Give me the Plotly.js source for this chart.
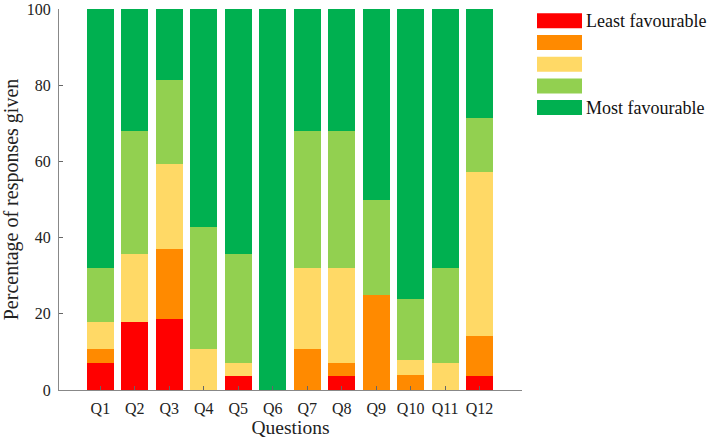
<!DOCTYPE html>
<html>
<head>
<meta charset="utf-8">
<script src="https://cdn.plot.ly/plotly-3.0.1.min.js"></script>
<style>html,body{margin:0;padding:0;background:#fff}#chart{width:708px;height:444px}</style>
</head>
<body>
<div id="chart"></div>
<script>
const questions = ["Q1","Q2","Q3","Q4","Q5","Q6","Q7","Q8","Q9","Q10","Q11","Q12"];
const seriesNames = ["Least favourable","","","","Most favourable"];
const seriesColors = ["#FF0000","#FF8A00","#FFD966","#92D050","#00B050"];
const leastFavourable = [7.14,17.86,18.52,0,3.57,0,0,3.57,0,0,0,3.57];
const level2 =          [3.57,0,18.52,0,0,0,10.71,3.57,25,4,0,10.71];
const level3 =          [7.14,17.86,22.22,10.71,3.57,0,21.43,25,0,4,7.14,42.86];
const level4 =          [14.29,32.14,22.22,32.14,28.57,0,35.71,35.71,25,16,25,14.29];
const mostFavourable =  [67.86,32.14,18.52,57.14,64.29,100,32.14,32.14,50,76,67.86,28.57];
const yTicks = [0,20,40,60,80,100];

const series = [leastFavourable, level2, level3, level4, mostFavourable];
const traces = series.map((vals, i) => ({
  type: "bar",
  x: questions,
  y: vals,
  name: seriesNames[i],
  marker: {color: seriesColors[i], line: {width: 0}},
  showlegend: false,
  hoverinfo: "x+y"
}));

const FONT = "'Liberation Serif', 'Times New Roman', 'DejaVu Serif', serif";
const shapes = [];
const annotations = [];
seriesNames.forEach((n, i) => {
  const top = 13.3 + i * 21.7;
  shapes.push({
    type: "rect", xref: "paper", yref: "paper",
    x0: (537 - 59) / 463, x1: (582 - 59) / 463,
    y0: 1 - (top + 15 - 9) / 381, y1: 1 - (top - 9) / 381,
    fillcolor: seriesColors[i], line: {width: 0}
  });
  if (n) {
    annotations.push({
      xref: "paper", yref: "paper",
      x: (584 - 59) / 463, y: 1 - (top + 8 - 9) / 381,
      xanchor: "left", yanchor: "middle", showarrow: false,
      text: n, font: {family: FONT, size: 18, color: "#111"}
    });
  }
});

const layout = {
  width: 708, height: 444,
  margin: {l: 59, r: 186, t: 9, b: 54},
  barmode: "stack",
  bargap: 0.21,
  paper_bgcolor: "#fff", plot_bgcolor: "#fff",
  font: {family: FONT, size: 16, color: "#222"},
  xaxis: {
    type: "category",
    range: [-1.2, 12.23],
    showline: true, linecolor: "#888", linewidth: 1,
    ticks: "inside", ticklen: 4, tickcolor: "#666",
    showgrid: false, zeroline: false,
    tickfont: {family: FONT, size: 16, color: "#222"},
    ticklabelstandoff: 4,
    title: {text: "Questions", font: {family: FONT, size: 19.5, color: "#222"}, standoff: 0}
  },
  yaxis: {
    range: [0, 100],
    tickvals: yTicks,
    showline: true, linecolor: "#888", linewidth: 1,
    ticks: "inside", ticklen: 4, tickcolor: "#666",
    showgrid: false, zeroline: false,
    tickfont: {family: FONT, size: 16, color: "#222"},
    ticklabelstandoff: 4,
    title: {text: "Percentage of responses given", font: {family: FONT, size: 20, color: "#222"}, standoff: 8}
  },
  shapes: shapes,
  annotations: annotations
};

Plotly.newPlot("chart", traces, layout, {displayModeBar: false, staticPlot: true});
</script>
</body>
</html>
